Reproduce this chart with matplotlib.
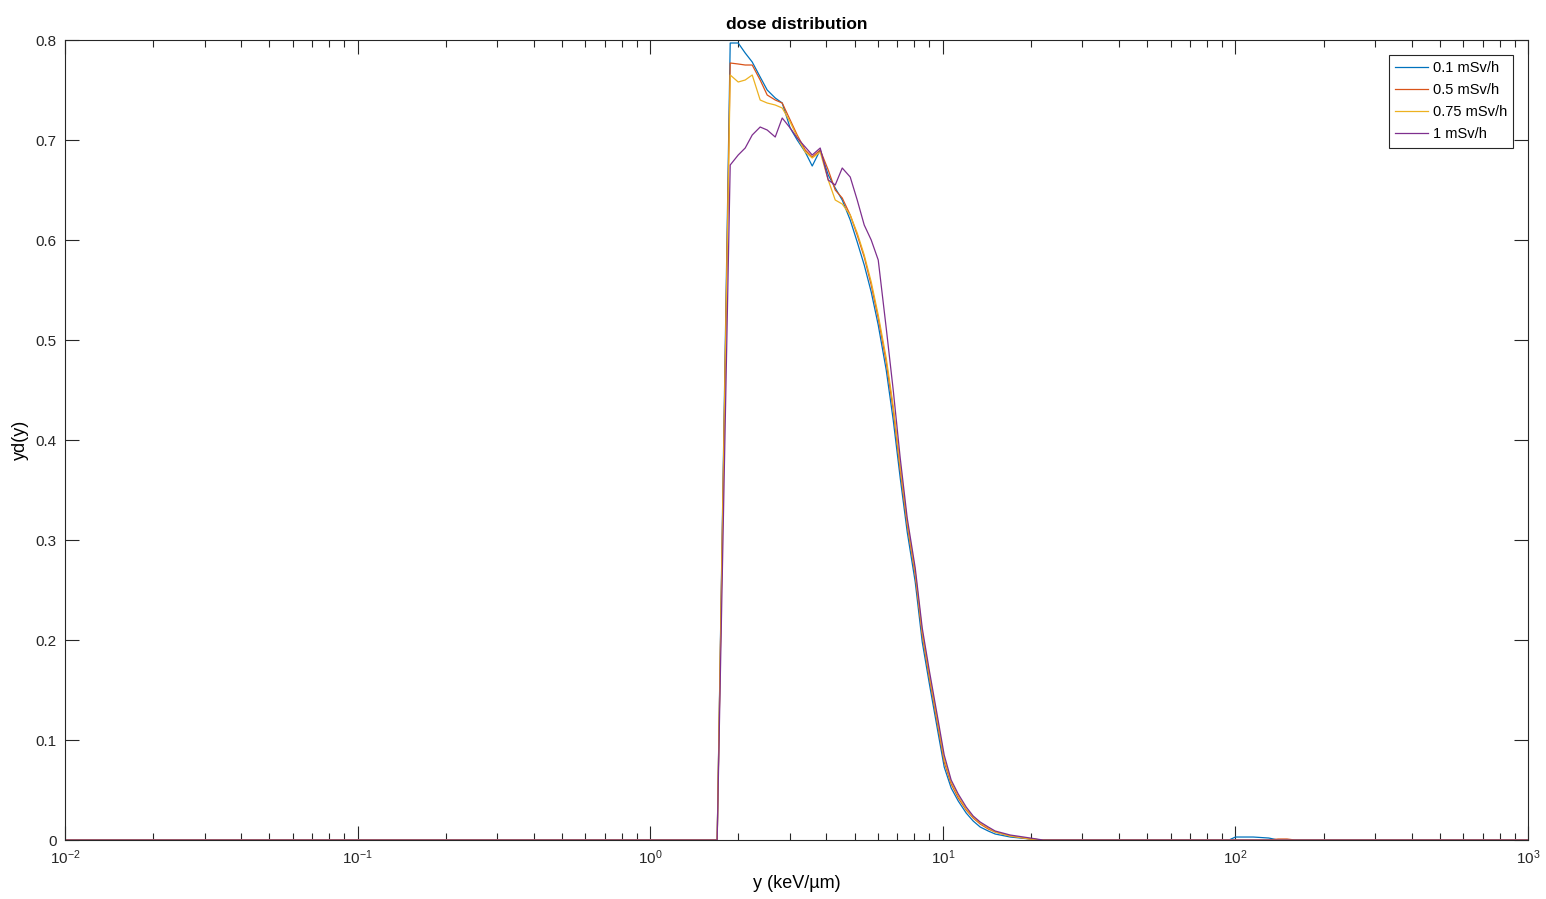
import matplotlib.pyplot as plt
import numpy as np

plt.rcParams['font.family'] = ['Liberation Sans', 'DejaVu Sans']
plt.rcParams['axes.unicode_minus'] = False

# lineal energy grid where the spectra are non-zero (keV/um)
y_bins = [0.01, 1.68, 1.694, 1.877, 1.999, 2.112, 2.232, 2.376, 2.511, 2.675, 2.826,
          3.009, 3.180, 3.387, 3.579, 3.811, 4.059, 4.289, 4.532, 4.826, 5.099,
          5.388, 5.693, 6.016, 6.406, 6.769, 7.152, 7.557, 8.049, 8.505, 8.986,
          9.569, 10.11, 10.68, 11.29, 12.02, 12.70, 13.42, 14.30, 15.10, 17.00,
          19.90, 22.0, 95.0, 100.0, 115.0, 130.0, 140.0, 150.0, 160.0, 1000.0]

yd_01 = [0, 0, 0, 0.797, 0.797, 0.787, 0.778, 0.763, 0.750, 0.742, 0.737,
         0.712, 0.700, 0.688, 0.674, 0.690, 0.665, 0.652, 0.640, 0.620, 0.598,
         0.575, 0.548, 0.515, 0.470, 0.420, 0.362, 0.308, 0.258, 0.198, 0.157,
         0.112, 0.073, 0.052, 0.039, 0.027, 0.019, 0.013, 0.009, 0.006, 0.003,
         0.001, 0, 0, 0.003, 0.003, 0.002, 0, 0, 0, 0]

yd_05 = [0, 0, 0, 0.777, 0.776, 0.775, 0.775, 0.760, 0.745, 0.740, 0.737,
         0.720, 0.705, 0.690, 0.683, 0.690, 0.670, 0.650, 0.642, 0.625, 0.605,
         0.583, 0.555, 0.522, 0.478, 0.430, 0.370, 0.315, 0.265, 0.205, 0.163,
         0.118, 0.078, 0.056, 0.042, 0.030, 0.022, 0.016, 0.011, 0.008, 0.004,
         0.001, 0, 0, 0, 0, 0, 0.001, 0.001, 0, 0]

yd_075 = [0, 0, 0, 0.765, 0.758, 0.760, 0.765, 0.740, 0.737, 0.735, 0.732,
          0.718, 0.703, 0.688, 0.682, 0.688, 0.660, 0.640, 0.636, 0.625, 0.607,
          0.585, 0.558, 0.525, 0.482, 0.434, 0.374, 0.318, 0.268, 0.208, 0.166,
          0.121, 0.081, 0.058, 0.044, 0.031, 0.023, 0.017, 0.012, 0.008, 0.004,
          0.001, 0, 0, 0, 0, 0, 0, 0, 0, 0]

yd_1 = [0, 0, 0, 0.675, 0.685, 0.692, 0.705, 0.713, 0.710, 0.703, 0.722,
        0.712, 0.702, 0.693, 0.685, 0.692, 0.660, 0.655, 0.672, 0.663, 0.640,
        0.615, 0.600, 0.580, 0.512, 0.450, 0.382, 0.322, 0.272, 0.212, 0.170,
        0.125, 0.085, 0.060, 0.046, 0.033, 0.024, 0.018, 0.013, 0.009, 0.005,
        0.002, 0, 0, 0, 0, 0, 0, 0, 0, 0]

labels = ['0.1 mSv/h', '0.5 mSv/h', '0.75 mSv/h', '1 mSv/h']
colors = ['#0072BD', '#D95319', '#EDB120', '#7E2F8E']

fig = plt.figure(figsize=(15.46, 8.99), dpi=100)
ax = fig.add_axes([0.042, 0.0656, 0.9464, 0.8899])

for vals, lab, c in zip([yd_01, yd_05, yd_075, yd_1], labels, colors):
    ax.plot(y_bins, vals, color=c, lw=0.9, label=lab)

ax.set_xscale('log')
ax.set_xlim(1e-2, 1e3)
ax.set_ylim(0, 0.8)
ax.set_yticks(np.arange(0, 0.81, 0.1))
ax.set_yticklabels(['0', '0.1', '0.2', '0.3', '0.4', '0.5', '0.6', '0.7', '0.8'])

axis_col = '#262626'
for s in ax.spines.values():
    s.set_color(axis_col)
    s.set_linewidth(0.8)
ax.tick_params(which='both', direction='in', top=True, right=True,
               colors=axis_col, labelsize=11)
ax.tick_params(which='major', length=10, width=0.8, pad=6)
ax.tick_params(which='minor', length=5, width=0.8)

ax.set_title('dose distribution', fontsize=12.5, fontweight='bold', pad=8)
ax.set_xlabel('y (keV/\u00b5m)', fontsize=13, labelpad=6)
ax.set_ylabel('yd(y)', fontsize=13, labelpad=5)

leg = ax.legend(loc='upper right', fontsize=10.5, fancybox=False, framealpha=1,
                edgecolor=axis_col, borderaxespad=1.0, handlelength=2.2,
                labelspacing=0.55, borderpad=0.45, handletextpad=0.35)
leg.get_frame().set_linewidth(0.8)

fig.savefig('out.png', dpi=100)
